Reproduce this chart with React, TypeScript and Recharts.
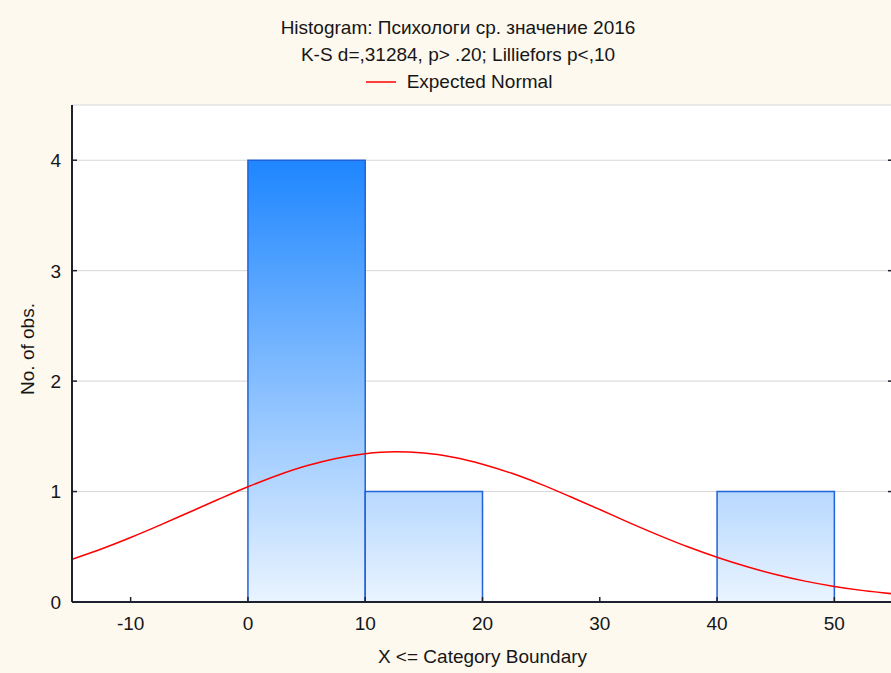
import React from 'react';
import { ComposedChart, Line, XAxis, YAxis, CartesianGrid, ReferenceArea } from 'recharts';

// ---- data ----
const binStarts = [-10, 0, 10, 20, 30, 40];
const binEnds = [0, 10, 20, 30, 40, 50];
const binCounts = [0, 4, 1, 0, 0, 1];

const normalX = [-15, -12.5, -10, -7.5, -5, -2.5, 0, 2.5, 5, 7.5, 10, 12.5, 15, 17.5, 20, 22.5, 25, 27.5, 30, 32.5, 35, 37.5, 40, 42.5, 45, 47.5, 50, 52.5, 55];
const normalY = [0.387, 0.48, 0.584, 0.696, 0.813, 0.93, 1.043, 1.146, 1.233, 1.3, 1.343, 1.36, 1.349, 1.311, 1.248, 1.165, 1.065, 0.953, 0.837, 0.719, 0.606, 0.5, 0.405, 0.321, 0.249, 0.189, 0.141, 0.103, 0.074];

const xTicks = [-10, 0, 10, 20, 30, 40, 50];
const yTicks = [0, 1, 2, 3, 4];
const xDomain = [-15, 55];
const yDomain = [0, 4.5];

const titleLine1 = 'Histogram: Психологи ср. значение 2016';
const titleLine2 = 'K-S d=,31284, p> .20; Lilliefors p<,10';
const legendLabel = 'Expected Normal';
const xLabel = 'X <= Category Boundary';
const yLabel = 'No. of obs.';

const lineData = normalX.map((x, i) => ({ x, normal: normalY[i] }));
const bins = binStarts.map((s, i) => ({ s, e: binEnds[i], c: binCounts[i] })).filter((b) => b.c > 0);

const FONT = "'Liberation Sans', Arial, sans-serif";
const FS = 19;
const TXT = '#161616';
const AXIS = '#1d2230';

const XTick = (props: any) => {
  const { x, y, payload } = props;
  return (
    <text x={x} y={y} textAnchor="middle" fontFamily={FONT} fontSize={FS} fill={TXT}>
      {payload.value}
    </text>
  );
};

const YTick = (props: any) => {
  const { x, y, payload } = props;
  return (
    <text x={x} y={y} dy="0.36em" textAnchor="end" fontFamily={FONT} fontSize={FS} fill={TXT}>
      {payload.value}
    </text>
  );
};

const NoTick = () => <g />;

export default function App() {
  return (
    <div
      style={{
        position: 'absolute',
        left: 0,
        top: 0,
        width: 891,
        height: 673,
        overflow: 'hidden',
        background: '#FDF9EF',
        fontFamily: FONT,
        color: TXT,
      }}
    >
      <div style={{ position: 'absolute', left: 0, top: 18, width: 916, textAlign: 'center', fontSize: FS, lineHeight: '20px', whiteSpace: 'nowrap' }}>
        {titleLine1}
      </div>
      <div style={{ position: 'absolute', left: 0, top: 45, width: 916, textAlign: 'center', fontSize: FS, lineHeight: '20px', whiteSpace: 'nowrap' }}>
        {titleLine2}
      </div>
      <div
        style={{
          position: 'absolute',
          left: 0,
          top: 72,
          width: 918,
          display: 'flex',
          justifyContent: 'center',
          alignItems: 'center',
          fontSize: FS,
          lineHeight: '20px',
          whiteSpace: 'nowrap',
        }}
      >
        <svg width={30} height={20} style={{ marginRight: 11 }}>
          <line x1={0} x2={30} y1={10} y2={10} stroke="#ff0000" strokeWidth={1.5} />
        </svg>
        <span>{legendLabel}</span>
      </div>
      <div
        style={{
          position: 'absolute',
          left: 28,
          top: 349,
          transform: 'translate(-50%, -50%) rotate(-90deg)',
          fontSize: FS,
          lineHeight: '20px',
          whiteSpace: 'nowrap',
        }}
      >
        {yLabel}
      </div>
      <div style={{ position: 'absolute', left: 0, top: 647, width: 965, textAlign: 'center', fontSize: FS, lineHeight: '20px', whiteSpace: 'nowrap' }}>
        {xLabel}
      </div>

      <div style={{ position: 'absolute', left: 0, top: 0 }}>
        <ComposedChart width={894} height={673} data={lineData} margin={{ top: 105, right: 0, bottom: 31, left: 22 }}>
          <defs>
            <linearGradient id="barGrad" gradientUnits="userSpaceOnUse" x1="0" y1="160" x2="0" y2="602">
              <stop offset="0%" stopColor="#1E86FF" />
              <stop offset="100%" stopColor="#EAF4FF" />
            </linearGradient>
          </defs>
          <CartesianGrid fill="#ffffff" stroke="#d6d6d6" vertical={false} />
          <XAxis
            xAxisId="0"
            dataKey="x"
            type="number"
            domain={xDomain}
            ticks={xTicks}
            allowDataOverflow
            height={40}
            tickSize={-5}
            tickMargin={33}
            axisLine={{ stroke: AXIS, strokeWidth: 2 }}
            tickLine={{ stroke: AXIS, strokeWidth: 1.5 }}
            tick={XTick}
            interval={0}
          />
          <XAxis
            xAxisId="top"
            orientation="top"
            dataKey="x"
            type="number"
            domain={xDomain}
            ticks={xTicks}
            allowDataOverflow
            height={0}
            tickSize={-5}
            axisLine={{ stroke: AXIS, strokeWidth: 2 }}
            tickLine={{ stroke: AXIS, strokeWidth: 1.5 }}
            tick={NoTick}
            interval={0}
          />
          <YAxis
            yAxisId="0"
            type="number"
            domain={yDomain}
            ticks={yTicks}
            allowDataOverflow
            width={50}
            tickSize={-5}
            tickMargin={16}
            axisLine={{ stroke: AXIS, strokeWidth: 2 }}
            tickLine={{ stroke: AXIS, strokeWidth: 1.5 }}
            tick={YTick}
            interval={0}
          />
          <YAxis
            yAxisId="right"
            orientation="right"
            type="number"
            domain={yDomain}
            ticks={yTicks}
            allowDataOverflow
            width={1}
            tickSize={-5}
            axisLine={{ stroke: AXIS, strokeWidth: 2 }}
            tickLine={{ stroke: AXIS, strokeWidth: 1.5 }}
            tick={NoTick}
            interval={0}
          />
          {bins.map((b, i) => (
            <ReferenceArea
              key={i}
              xAxisId="0"
              yAxisId="0"
              x1={b.s}
              x2={b.e}
              y1={0}
              y2={b.c}
              fill="url(#barGrad)"
              fillOpacity={1}
              stroke="#2262D8"
              strokeWidth={1.5}
              strokeOpacity={1}
            />
          ))}
          <Line
            xAxisId="0"
            yAxisId="0"
            dataKey="normal"
            type="monotone"
            stroke="#ff0000"
            strokeWidth={1.5}
            dot={false}
            activeDot={false}
            isAnimationActive={false}
          />
        </ComposedChart>
      </div>
    </div>
  );
}
